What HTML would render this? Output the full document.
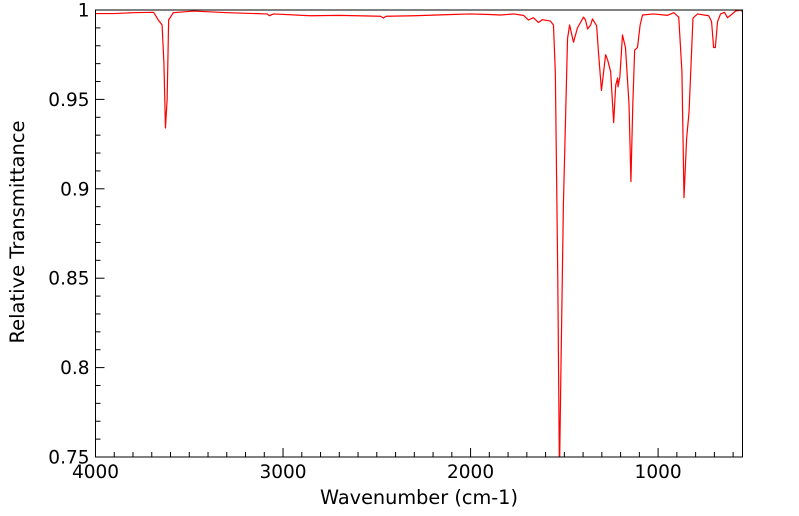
<!DOCTYPE html>
<html><head><meta charset="utf-8"><style>
body{margin:0;background:#fff;}
svg{display:block;font-family:"DejaVu Sans","Liberation Sans",sans-serif;}
</style></head><body>
<svg id="chart" width="799" height="516"></svg>
<script>
const wavenumbers=[4000,3900,3800,3690,3665,3645,3635,3627,3618,3610,3585,3478,3297,3084,3073,3051,2854,2700,2480,2465,2450,2300,2100,2000,1900,1840,1771,1718,1691,1665,1638,1617,1574,1558,1548,1535,1526,1518,1505,1483,1472,1451,1430,1398,1387,1376,1360,1350,1328,1317,1302,1280,1269,1253,1237,1226,1216,1214,1204,1190,1174,1155,1145,1135,1125,1110,1096,1083,1024,950,916,890,873,862,848,835,814,790,730,715,704,695,683,667,646,630,614,587,560,550];
const transmittance=[0.998,0.998,0.9985,0.9987,0.9944,0.9916,0.97,0.934,0.95,0.9944,0.9985,0.9994,0.9985,0.9978,0.9968,0.9978,0.9968,0.997,0.9965,0.9955,0.9965,0.9968,0.9975,0.9978,0.9975,0.9972,0.9978,0.997,0.9944,0.9957,0.993,0.9946,0.9938,0.9916,0.965,0.85,0.74,0.8,0.891,0.984,0.9916,0.982,0.99,0.996,0.9944,0.9894,0.9916,0.995,0.9912,0.975,0.955,0.975,0.972,0.9655,0.937,0.958,0.962,0.957,0.9625,0.986,0.979,0.947,0.904,0.947,0.9776,0.979,0.9916,0.9972,0.9978,0.997,0.9985,0.996,0.9655,0.895,0.928,0.943,0.9955,0.9978,0.9968,0.9935,0.979,0.979,0.9935,0.9978,0.9987,0.9957,0.997,0.9994,1.0,0.999];
const yTicks=[0.75,0.8,0.85,0.9,0.95,1];
const yTickLabels=["0.75","0.8","0.85","0.9","0.95","1"];
const xTicks=[4000,3000,2000,1000];
const xTickLabels=["4000","3000","2000","1000"];

const L=95.5,R=742.5,T=10,B=457,XMAX=4000,XMIN=550,YMIN=0.75,YMAX=1;
const sx=w=>L+(XMAX-w)/(XMAX-XMIN)*(R-L);
const sy=v=>B-(v-YMIN)/(YMAX-YMIN)*(B-T);
const NS="http://www.w3.org/2000/svg";
const svg=document.getElementById('chart');
function mk(tag,attrs,parent){const e=document.createElementNS(NS,tag);for(const k in attrs)e.setAttribute(k,attrs[k]);(parent||svg).appendChild(e);return e;}

const defs=mk('defs',{});
const cp=mk('clipPath',{id:'clip'},defs);
mk('rect',{x:L,y:T,width:R-L,height:B-T},cp);

const pts=wavenumbers.map((w,i)=>sx(w).toFixed(2)+','+sy(transmittance[i]).toFixed(2)).join(' ');
const line=mk('polyline',{points:pts,fill:'none',stroke:'#ff0000','stroke-width':1.2,'stroke-linejoin':'round','clip-path':'url(#clip)'});



const frame=mk('rect',{x:L,y:T,width:R-L,height:B-T,fill:'none',stroke:'#000','stroke-width':1});



for(let k=0;k<=25;k++){
  const v=YMIN+k*0.01;const y=sy(v);const major=(k%5===0);
  const t=mk('line',{x1:L,x2:L+(major?9:5),y1:y,y2:y,stroke:'#000','stroke-width':1});
  
  
}
yTicks.forEach((v,i)=>{
  const t=mk('text',{x:L-6,y:sy(v)+6.5,'text-anchor':'end','font-size':18.5,fill:'#000'});
  t.textContent=yTickLabels[i];
  
  
});
for(let w=4000;w>=XMIN;w-=100){
  const x=sx(w);const major=(w%1000===0);
  const t=mk('line',{x1:x,x2:x,y1:B,y2:B-(major?9:5),stroke:'#000','stroke-width':1});
  
  
}
xTicks.forEach((w,i)=>{
  const t=mk('text',{x:sx(w),y:B+21,'text-anchor':'middle','font-size':18.5,fill:'#000'});
  t.textContent=xTickLabels[i];
  
  
});
const xt=mk('text',{x:(L+R)/2,y:504,'text-anchor':'middle','font-size':19.3,fill:'#000'});
xt.textContent='Wavenumber (cm-1)';


const yt=mk('text',{x:0,y:0,'text-anchor':'middle','font-size':19.5,fill:'#000',transform:'translate(24,232) rotate(-90)'});
yt.textContent='Relative Transmittance';


</script>
</body></html>
